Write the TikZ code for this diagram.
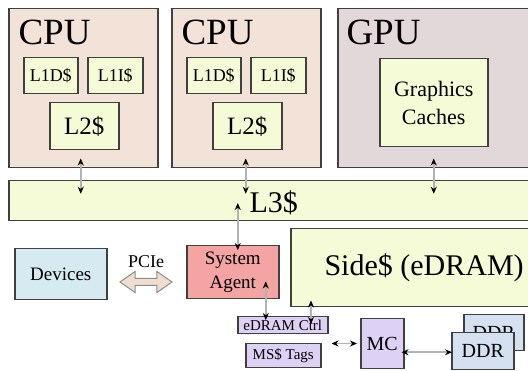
\documentclass[tikz,border=0pt]{standalone}
\usepackage{fontspec}
\setmainfont{Liberation Serif}
\usetikzlibrary{arrows.meta,shapes.arrows}

\definecolor{cpufill}{HTML}{F2E2D7}
\definecolor{gpufill}{HTML}{E2D8DA}
\definecolor{cachefill}{HTML}{F5FBD6}
\definecolor{devfill}{HTML}{D6EAF1}
\definecolor{safill}{HTML}{F5A4A4}
\definecolor{lavfill}{HTML}{DED1F6}
\definecolor{ddrfill}{HTML}{D5E0F1}
\definecolor{pciefill}{HTML}{EFDDD0}

\tikzset{
  box/.style={draw=black!75, line width=1.5pt, inner sep=0pt, anchor=north west},
  cachebox/.style={box, fill=cachefill},
  link/.style={draw=black!30, line width=1.6pt,
    {Stealth[black,length=7pt,width=6pt]}-{Stealth[black,length=7pt,width=6pt]}},
}

\begin{document}
\begin{tikzpicture}[x=1pt,y=-1pt]
  \clip (0,0) rectangle (528,371);
  \fill[white] (0,0) rectangle (528,371);

  % processors
  \node[box, fill=cpufill, minimum width=149, minimum height=159] (cpua) at (8,8) {};
  \node[box, fill=cpufill, minimum width=149, minimum height=159] (cpub) at (171,8) {};
  \node[box, fill=gpufill, minimum width=210, minimum height=159] (gpu) at (337,8) {};
  \node[anchor=base west, font=\fontsize{37}{40}\selectfont] (cpualbl) at (15,45) {CPU};
  \node[anchor=base west, font=\fontsize{37}{40}\selectfont] (cpublbl) at (178,45) {CPU};
  \node[anchor=base west, font=\fontsize{37}{40}\selectfont] (gpulbl) at (343,45) {GPU};

  % private caches
  \node[cachebox, minimum width=54, minimum height=36, font=\fontsize{18}{20}\selectfont] (l1da) at (23,57) {L1D\$};
  \node[cachebox, minimum width=55, minimum height=36, font=\fontsize{18}{20}\selectfont] (l1ia) at (87,57) {L1I\$};
  \node[cachebox, minimum width=69, minimum height=47, font=\fontsize{25}{26}\selectfont] (l2a) at (49,102) {L2\$};
  \node[cachebox, minimum width=54, minimum height=36, font=\fontsize{18}{20}\selectfont] (l1db) at (186,57) {L1D\$};
  \node[cachebox, minimum width=55, minimum height=36, font=\fontsize{18}{20}\selectfont] (l1ib) at (250,57) {L1I\$};
  \node[cachebox, minimum width=69, minimum height=47, font=\fontsize{25}{26}\selectfont] (l2b) at (212,102) {L2\$};
  \node[cachebox, minimum width=108, minimum height=88, align=center,
        font=\fontsize{22}{28}\selectfont] (gfx) at (379,58) {Graphics\\Caches};

  % shared caches
  \node[cachebox, minimum width=540, minimum height=40] (l3) at (8,180) {};
  \node[anchor=base west, font=\fontsize{30}{32}\selectfont] (l3lbl) at (246,213) {L3\$};
  \node[cachebox, minimum width=250, minimum height=78] (side) at (290,228) {};
  \node[anchor=base west, font=\fontsize{30}{32}\selectfont] (sidelbl) at (321,276) {Side\$ (eDRAM)};

  % uncore
  \node[box, fill=devfill, minimum width=92, minimum height=51, font=\fontsize{19}{21}\selectfont] (dev) at (14,248) {Devices};
  \node[box, fill=safill, minimum width=92, minimum height=53, align=center,
        font=\fontsize{19}{24}\selectfont] (sa) at (186,245) {System\\Agent};
  \node[double arrow, draw=black!45, fill=pciefill, line width=1pt, inner sep=3pt,
        minimum width=16pt, minimum height=52pt, double arrow tip angle=70] (pcie) at (146,282) {};
  \node[anchor=base, font=\fontsize{18}{20}\selectfont] (pcielbl) at (146,268) {PCIe};

  \node[box, fill=lavfill, minimum width=75, minimum height=24, font=\fontsize{15}{17}\selectfont] (tags) at (245,343) {MS\$ Tags};
  \node[box, fill=lavfill, minimum width=90, minimum height=17, font=\fontsize{15}{17}\selectfont] (edram) at (237,316) {eDRAM Ctrl};
  \node[box, fill=lavfill, minimum width=43, minimum height=50, font=\fontsize{20}{21}\selectfont] (mc) at (360,318) {MC};
  \node[box, fill=ddrfill, minimum width=60, minimum height=36, font=\fontsize{20}{21}\selectfont] (ddrb) at (463,314) {DDR};
  \node[box, fill=ddrfill, minimum width=62, minimum height=37, font=\fontsize{20}{21}\selectfont] (ddra) at (451,332) {DDR};

  % links
  \draw[link, shorten <=8pt, shorten >=7pt] ([xshift=-3.5pt]l2a.south) -- ([xshift=-3.5pt]l2a.south |- l3.center);
  \draw[link, shorten <=8pt, shorten >=7pt] ([xshift=-1.5pt]l2b.south) -- ([xshift=-1.5pt]l2b.south |- l3.center);
  \draw[link, shorten <=11pt, shorten >=7pt] (gfx.south) -- (gfx.south |- l3.center);
  \draw[link, shorten <=23pt, shorten >=-5pt] ([xshift=5pt]sa.north |- l3.north) -- ([xshift=5pt]sa.north);
  \draw[link, shorten <=-18pt, shorten >=-4pt] ([xshift=33pt]sa.south) -- ([xshift=33pt]sa.south |- edram.north);
  \draw[link, shorten <=-8pt, shorten >=-7pt] (edram.north -| side.south west) ++(21pt,0) coordinate (sidectl) -- (sidectl |- side.south);
  \draw[link, shorten <=3pt, shorten >=3pt] ([yshift=-9pt]edram.south east) -- ([yshift=-9pt]edram.south east -| mc.west);
  \draw[link, shorten <=-3pt, shorten >=-1pt] ([yshift=-1pt]mc.east |- ddra.center) -- ([yshift=-1pt]ddra.west);
\end{tikzpicture}
\end{document}
